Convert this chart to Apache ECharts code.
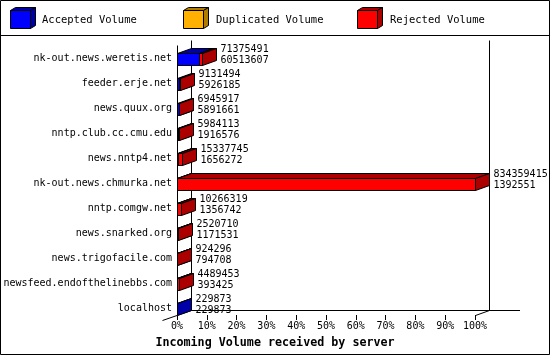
<!DOCTYPE html>
<html>
<head>
<meta charset="utf-8">
<script src="https://cdn.jsdelivr.net/npm/echarts@6/dist/echarts.min.js"></script>
<style>
html,body{margin:0;padding:0;background:#fff;}
#chart{width:550px;height:355px;}
</style>
</head>
<body>
<div id="chart"></div>
<script>
// ---- data ----
const hosts = [
  'nk-out.news.weretis.net',
  'feeder.erje.net',
  'news.quux.org',
  'nntp.club.cc.cmu.edu',
  'news.nntp4.net',
  'nk-out.news.chmurka.net',
  'nntp.comgw.net',
  'news.snarked.org',
  'news.trigofacile.com',
  'newsfeed.endofthelinebbs.com',
  'localhost'
];
const totalVolume = [71375491, 9131494, 6945917, 5984113, 15337745, 834359415, 10266319, 2520710, 924296, 4489453, 229873];
const acceptedVolume = [60513607, 5926185, 5891661, 1916576, 1656272, 1392551, 1356742, 1171531, 794708, 393425, 229873];
const duplicatedVolume = [0, 0, 0, 0, 0, 0, 0, 0, 0, 0, 0];
const rejectedVolume = [10861884, 3205309, 1054256, 4067537, 13681473, 832966864, 8909577, 1349179, 129588, 4096028, 0];
const seriesNames = ['Accepted Volume', 'Duplicated Volume', 'Rejected Volume'];
const axisMax = 834359415;
const tickPercent = [0, 10, 20, 30, 40, 50, 60, 70, 80, 90, 100];

// ---- style ----
const FONT = 'DejaVu Sans Mono';
const COLORS = [
  { front: '#0000ff', side: '#0000a8' },
  { front: '#ffb000', side: '#b07c00' },
  { front: '#ff0000', side: '#ac0000' }
];
const DX = 14, DY = 5, BAR_H = 12;

const rows = hosts.map((h, i) => [i, acceptedVolume[i], duplicatedVolume[i], rejectedVolume[i], totalVolume[i]]);

function px(v) { return Math.round(v) + 0.5; }

function renderItem(params, api) {
  const ci = api.value(0);
  const vals = [api.value(1), api.value(2), api.value(3)];
  const total = api.value(4);
  const o = api.coord([0, ci]);
  const cy = o[1];
  const top = px(cy - BAR_H / 2), bot = px(cy + BAR_H / 2);
  const children = [];
  let acc = 0;
  let lastEnd = px(o[0]);
  for (let s = 0; s < 3; s++) {
    const v = vals[s];
    if (v <= 0) continue;
    const xs = px(api.coord([acc, ci])[0]);
    acc += v;
    const xeRaw = api.coord([acc, ci])[0];
    const xe = Math.max(xs, px(xeRaw));
    lastEnd = xe;
    const c = COLORS[s];
    const st = { stroke: '#000', lineWidth: 1 };
    children.push({ type: 'polygon', shape: { points: [[xs, top], [xe, top], [xe, bot], [xs, bot]] },
      style: Object.assign({ fill: c.front }, st) });
    children.push({ type: 'polygon', shape: { points: [[xs, top], [xe, top], [xe + DX, top - DY], [xs + DX, top - DY]] },
      style: Object.assign({ fill: c.side }, st) });
    children.push({ type: 'polygon', shape: { points: [[xe, top], [xe + DX, top - DY], [xe + DX, bot - DY], [xe, bot]] },
      style: Object.assign({ fill: c.side }, st) });
  }
  const tx = lastEnd + DX + 4;
  children.push({ type: 'text', x: tx, y: cy - 9, style: { text: String(total), font: '10px ' + FONT, fill: '#000', align: 'left', verticalAlign: 'middle' } });
  children.push({ type: 'text', x: tx, y: cy + 1.5, style: { text: String(api.value(1)), font: '10px ' + FONT, fill: '#000', align: 'left', verticalAlign: 'middle' } });
  return { type: 'group', children: children };
}

function cube(x, y, c) {
  const w = 20, h = 18, dx = 5, dy = 3;
  return [
    { type: 'polygon', shape: { points: [[x, y], [x + w, y], [x + w + dx, y - dy], [x + dx, y - dy]] }, style: { fill: c.side, stroke: '#000', lineWidth: 1 } },
    { type: 'polygon', shape: { points: [[x + w, y], [x + w + dx, y - dy], [x + w + dx, y + h - dy], [x + w, y + h]] }, style: { fill: c.side, stroke: '#000', lineWidth: 1 } },
    { type: 'rect', shape: { x: x, y: y, width: w, height: h }, style: { fill: c.front, stroke: '#000', lineWidth: 1 } }
  ];
}

const legendX = [10.5, 183.5, 357.5];
const legendTextX = [42, 216, 390];
const graphics = [];
graphics.push({ type: 'rect', shape: { x: 0.5, y: 0.5, width: 549, height: 354 }, style: { fill: 'none', stroke: '#000', lineWidth: 1 }, silent: true });
graphics.push({ type: 'line', shape: { x1: 0, y1: 35.5, x2: 550, y2: 35.5 }, style: { stroke: '#000', lineWidth: 1 } });
seriesNames.forEach((n, i) => {
  cube(legendX[i], 10.5, COLORS[i]).forEach(g => graphics.push(g));
  graphics.push({ type: 'text', x: legendTextX[i], y: 20, style: { text: n, font: '10.5px ' + FONT, fill: '#000', verticalAlign: 'middle' } });
});
// 3D frame lines
const frame = [
  [177.5, 45.5, 177.5, 315.5],
  [191.5, 40.5, 191.5, 310.5],
  [489.5, 40.5, 489.5, 310.5],
  [191.5, 310.5, 520, 310.5],
  [162.5, 320.5, 191.5, 310.5],
  [475.5, 315.5, 489.5, 310.5]
];
frame.forEach(f => graphics.push({ type: 'line', z: -1, shape: { x1: f[0], y1: f[1], x2: f[2], y2: f[3] }, style: { stroke: '#000', lineWidth: 1 } }));

const chart = echarts.init(document.getElementById('chart'), null, { renderer: 'canvas' });
chart.setOption({
  animation: false,
  backgroundColor: '#fff',
  title: {
    text: 'Incoming Volume received by server',
    left: 'center', top: 332,
    textStyle: { fontFamily: FONT, fontWeight: 'bold', fontSize: 11.7, color: '#000' }
  },
  grid: { left: 177, right: 75, top: 46.3, height: 275 },
  xAxis: {
    type: 'value', min: 0, max: axisMax, interval: axisMax / 10,
    offset: -6.3,
    axisLine: { show: false },
    splitLine: { show: false },
    axisTick: { show: true, length: 5, lineStyle: { color: '#000', width: 1 } },
    axisLabel: {
      margin: 6, color: '#000', fontFamily: FONT, fontSize: 10,
      formatter: v => tickPercent[Math.round(v / axisMax * 10)] + '%'
    }
  },
  yAxis: {
    type: 'category', data: hosts, inverse: true,
    axisLine: { show: false }, axisTick: { show: false }, splitLine: { show: false },
    axisLabel: { margin: 5, color: '#000', fontFamily: FONT, fontSize: 10 }
  },
  graphic: graphics,
  series: [{
    type: 'custom',
    name: 'Volume',
    renderItem: renderItem,
    clip: false,
    encode: { x: [1, 4], y: 0 },
    data: rows
  }]
});
</script>
</body>
</html>
